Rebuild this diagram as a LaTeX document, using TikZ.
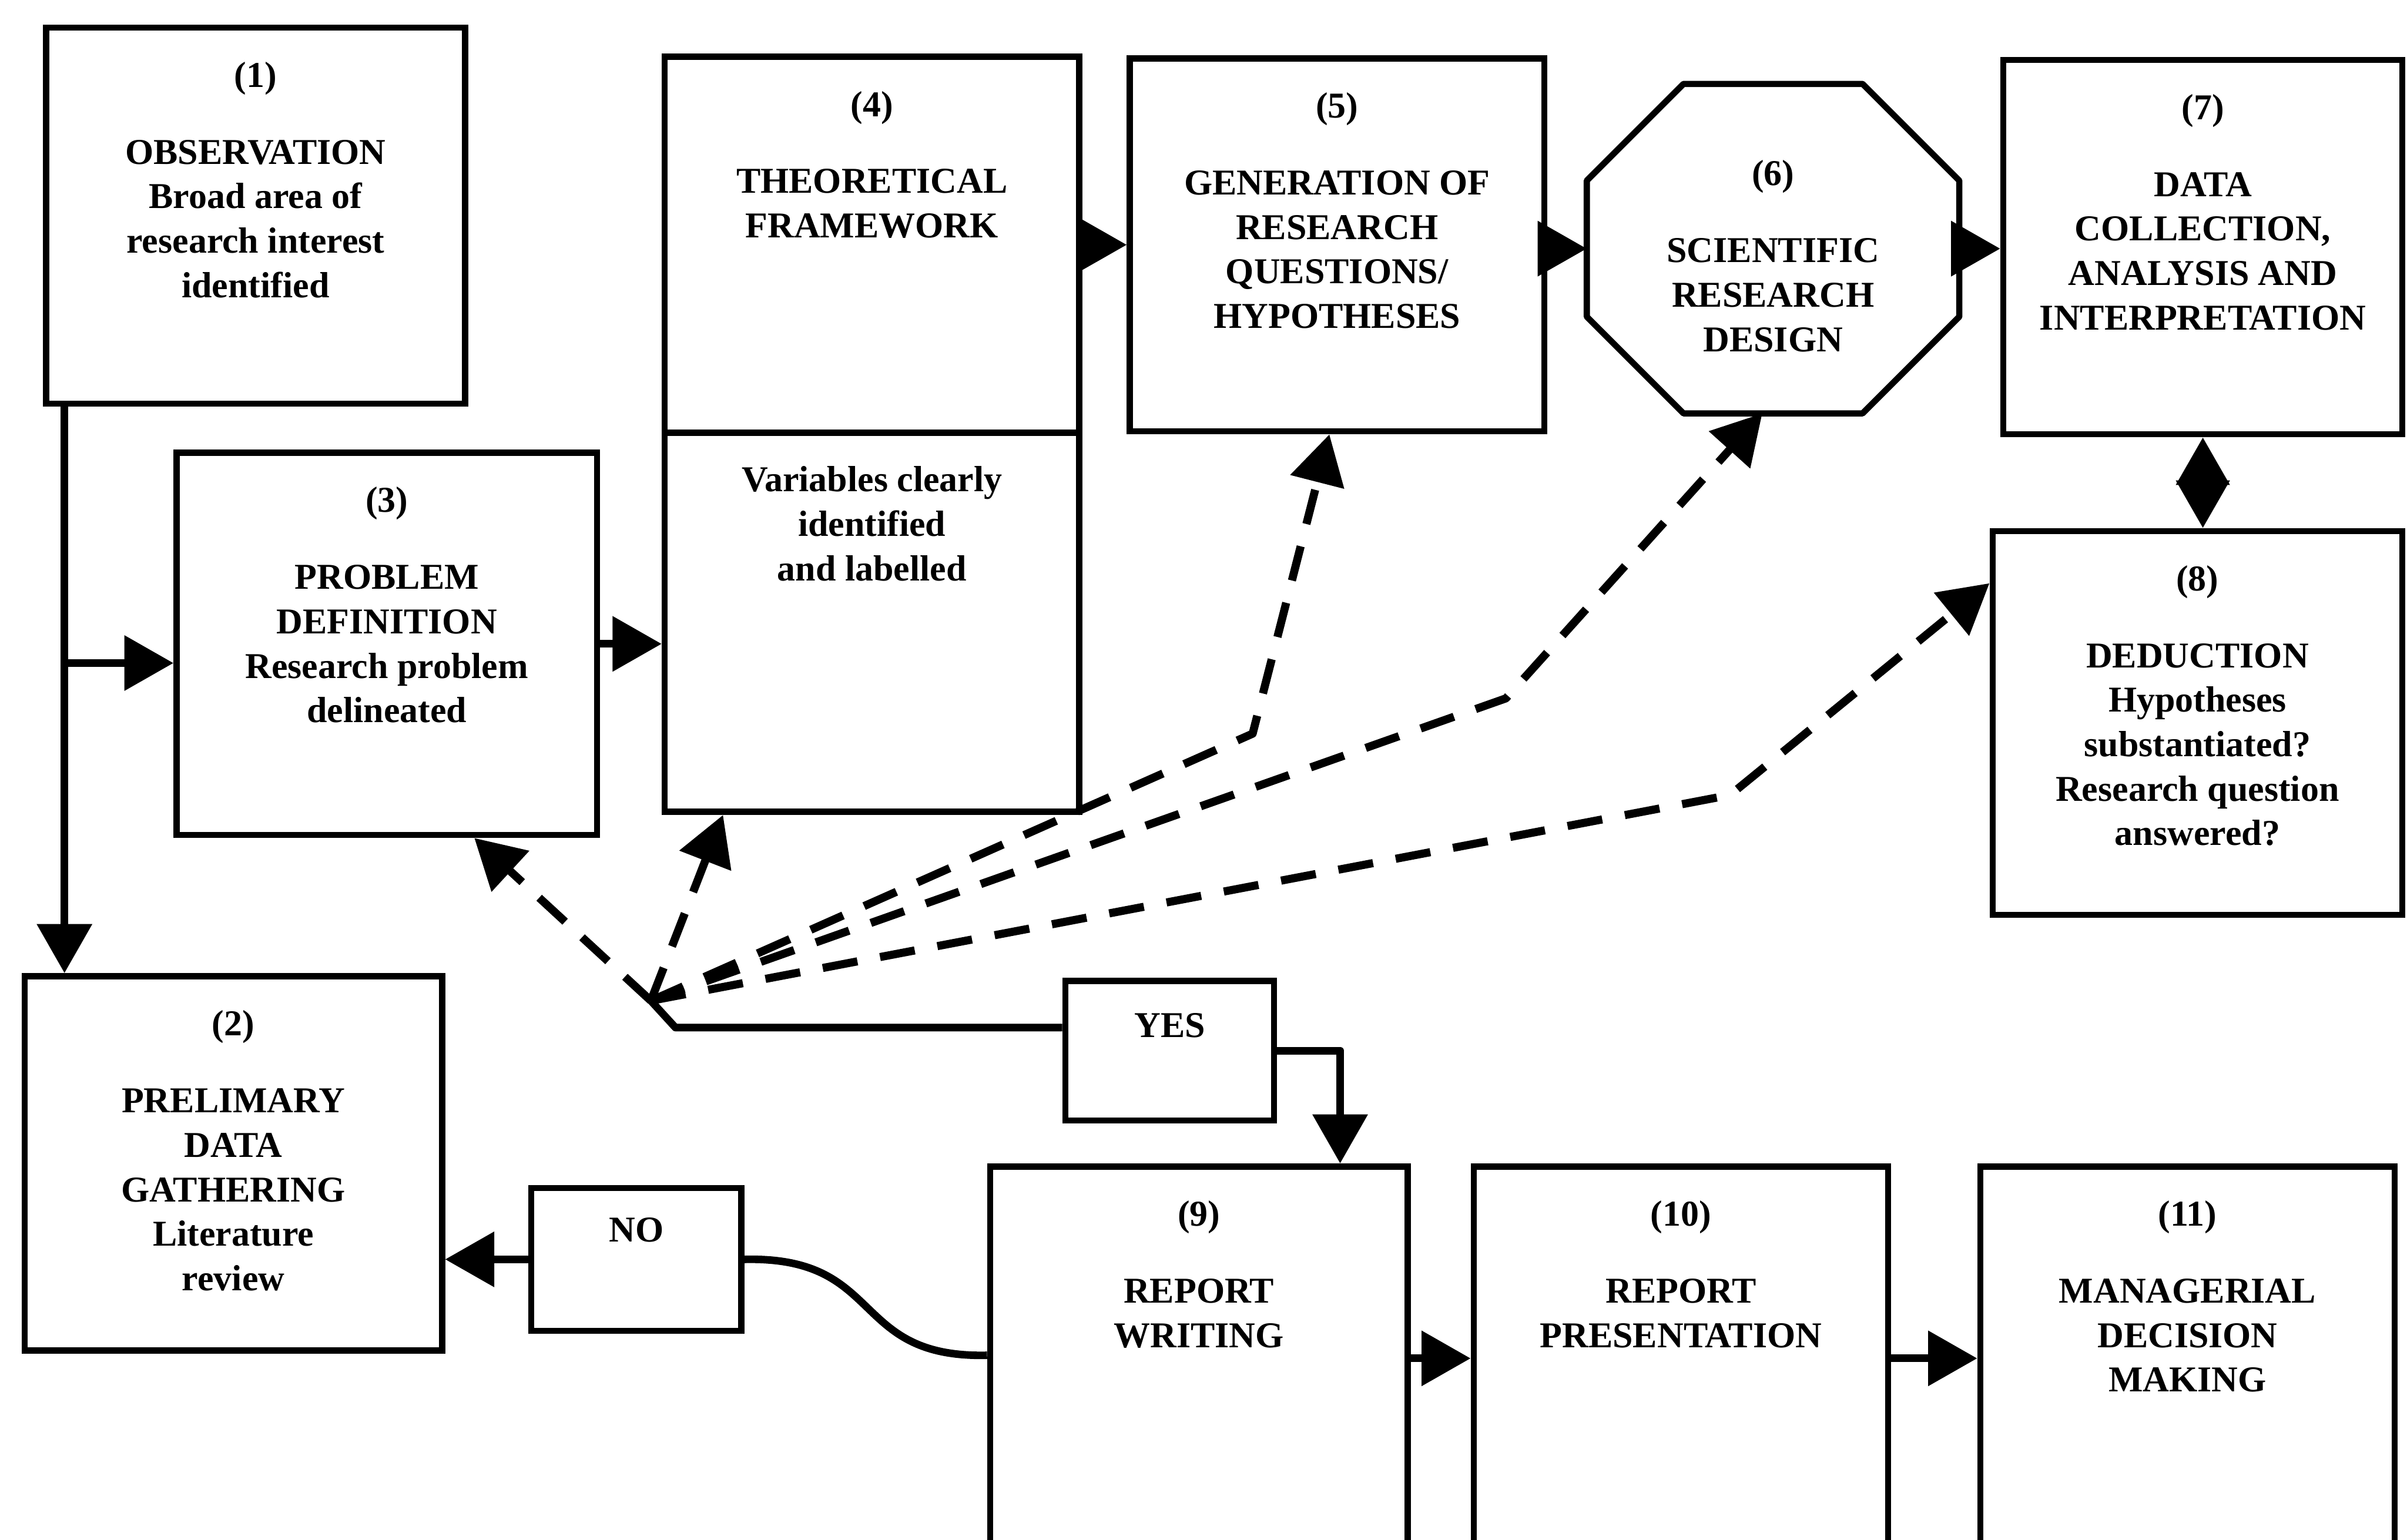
\documentclass[tikz,border=0pt]{standalone}
\usepackage{fontspec}
\setmainfont{Liberation Serif}
\usetikzlibrary{arrows.meta,positioning}

\tikzset{
  box/.style={draw, line width=2.3pt, inner sep=0pt},
  txt/.style={align=center, inner sep=0pt, font=\fontsize{13.5}{16.5}\selectfont\bfseries},
  link/.style={line width=2.8pt, line join=round},
  conn/.style={link, -{Triangle[length=0.64cm,width=0.7cm]}},
  dashconn/.style={line width=3pt, line join=round, dash pattern=on 0.46cm off 0.3cm, -{Triangle[length=0.64cm,width=0.7cm]}},
}

\begin{document}
\begin{tikzpicture}[x=0.02cm,y=-0.02cm]
    \useasboundingbox (0,0) rectangle (1568,1003);

    \node[box, minimum width=5.46cm, minimum height=4.9cm] (s1) at (166.5,140.5) {};
    \node[box, minimum width=5.44cm, minimum height=4.88cm] (s2) at (152,758) {};
    \node[box, minimum width=5.48cm, minimum height=4.98cm] (s3) at (252,419.5) {};
    \node[box, minimum width=5.4cm, minimum height=9.84cm] (s4) at (568,283) {};
    \node[box, minimum width=5.4cm, minimum height=4.86cm] (s5) at (871,159.5) {};
    \node[inner sep=0pt, minimum width=4.84cm, minimum height=4.28cm] (s6) at (1155,162) {};
    \node[box, minimum width=5.2cm, minimum height=4.88cm] (s7) at (1435,161) {};
    \node[box, minimum width=5.34cm, minimum height=5cm] (s8) at (1431.5,471) {};
    \node[box, minimum width=5.44cm, minimum height=5.6cm] (s9) at (781,900) {};
    \node[box, minimum width=5.4cm, minimum height=5.6cm] (s10) at (1095,900) {};
    \node[box, minimum width=5.4cm, minimum height=5.6cm] (s11) at (1425,900) {};
    \node[box, minimum width=2.72cm, minimum height=1.82cm] (yes) at (762,684.5) {};
    \node[box, minimum width=2.74cm, minimum height=1.86cm] (no) at (414.5,820.5) {};

    \draw[line width=2.3pt, line join=round] ([shift={(63,0)}]s6.north west) -- ([shift={(-63,0)}]s6.north east)
        -- ([shift={(0,63)}]s6.north east) -- ([shift={(0,-63)}]s6.south east)
        -- ([shift={(-63,0)}]s6.south east) -- ([shift={(63,0)}]s6.south west)
        -- ([shift={(0,-63)}]s6.south west) -- ([shift={(0,63)}]s6.north west) -- cycle;
    \coordinate (split) at (568,282);
    \draw[line width=2.3pt] (s4.west |- split) -- (s4.east |- split);

    \node[txt, below=0.48cm of s1.north] (t1) {(1)\\[12pt]OBSERVATION\\Broad area of\\research interest\\identified};
    \node[txt, below=0.48cm of s2.north] (t2) {(2)\\[12pt]PRELIMARY\\DATA\\GATHERING\\Literature\\review};
    \node[txt, below=0.48cm of s3.north] (t3) {(3)\\[12pt]PROBLEM\\DEFINITION\\Research problem\\delineated};
    \node[txt, below=0.48cm of s4.north] (t4) {(4)\\[12pt]THEORETICAL\\FRAMEWORK};
    \node[txt, below=0.43cm of split] (t4b) {Variables clearly\\identified\\and labelled};
    \node[txt, below=0.48cm of s5.north] (t5) {(5)\\[12pt]GENERATION OF\\RESEARCH\\QUESTIONS/\\HYPOTHESES};
    \node[txt, below=0.99cm of s6.north] (t6) {(6)\\[12pt]SCIENTIFIC\\RESEARCH\\DESIGN};
    \node[txt, below=0.48cm of s7.north] (t7) {(7)\\[12pt]DATA\\COLLECTION,\\ANALYSIS AND\\INTERPRETATION};
    \node[txt, below=0.48cm of s8.north] (t8) {(8)\\[12pt]DEDUCTION\\Hypotheses\\substantiated?\\Research question\\answered?};
    \node[txt, below=0.48cm of s9.north] (t9) {(9)\\[12pt]REPORT\\WRITING};
    \node[txt, below=0.48cm of s10.north] (t10) {(10)\\[12pt]REPORT\\PRESENTATION};
    \node[txt, below=0.48cm of s11.north] (t11) {(11)\\[12pt]MANAGERIAL\\DECISION\\MAKING};
    \node[txt, below=0.46cm of yes.north] (tyes) {YES};
    \node[txt, below=0.42cm of no.north] (tno) {NO};

    \coordinate (trunk) at (42,432);
    \draw[conn] (s1.south -| trunk) -- (s2.north -| trunk);
    \draw[conn] (trunk) -- (trunk -| s3.west);
    \draw[conn] (s3.east) -- (s3.east -| s4.west);
    \draw[conn] (s5.west -| s4.east) -- (s5.west);
    \draw[conn] (s6.west -| s5.east) -- (s6.west);
    \draw[conn] (s6.east) -- (s6.east -| s7.west);
    \draw[link, {Triangle[length=0.62cm,width=0.68cm]}-{Triangle[length=0.62cm,width=0.68cm]}] (s7.south) -- (s7.south |- s8.north);

    \coordinate (fork) at (424,652);
    \coordinate (elbow) at (440,669.5);
    \draw[link] (yes.west |- elbow) -- (elbow) -- (fork);
    \draw[conn] (yes.east) -| ([shift={(92,0)}]s9.north);
    \draw[conn] (no.west) -- (no.west -| s2.east);
    \draw[link] ([shift={(0,-17)}]s9.west) .. controls +(-90,2) and +(92,-2) .. (no.east);
    \draw[conn] ([shift={(0,-15)}]s9.east) -- ([shift={(0,-15)}]s10.west);
    \draw[conn] ([shift={(0,-15)}]s10.east) -- ([shift={(0,-15)}]s11.west);

    \coordinate (bend5) at (816,478);
    \coordinate (bend6) at (981,455);
    \coordinate (bend8) at (1127,518);
    \draw[dashconn] (fork) -- ([shift={(57,0)}]s3.south);
    \draw[dashconn] (fork) -- ([shift={(-97,0)}]s4.south);
    \draw[dashconn] (fork) -- (bend5) -- ([shift={(-5,0)}]s5.south);
    \draw[dashconn] (fork) -- (bend6) -- ([shift={(-7,0)}]s6.south);
    \draw[dashconn] (fork) -- (bend8) -- ([shift={(0,-91)}]s8.west);
\end{tikzpicture}
\end{document}
